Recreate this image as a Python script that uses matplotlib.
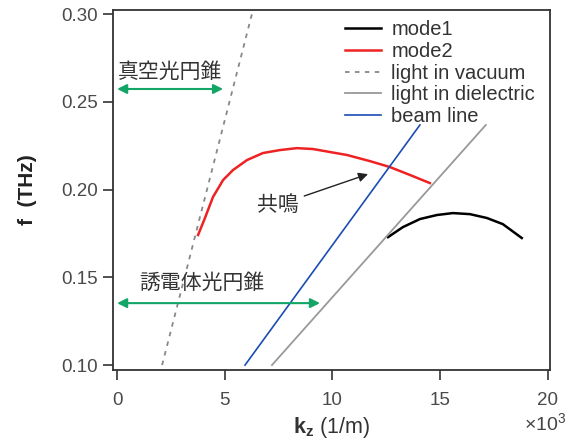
import matplotlib
matplotlib.use("Agg")
import matplotlib.pyplot as plt
import numpy as np

plt.rcParams['font.family'] = ['Liberation Sans', 'Noto Sans CJK JP', 'DejaVu Sans']
plt.rcParams['mathtext.fontset'] = 'custom'
plt.rcParams['mathtext.rm'] = 'Liberation Sans'
plt.rcParams['mathtext.bf'] = 'Liberation Sans:bold'

# dispersion curves (k in 1e3 1/m, f in THz)
mode1_k = [12.58, 13.27, 14.06, 14.85, 15.59, 16.38, 17.17, 17.91, 18.79]
mode1_f = [0.1729, 0.1786, 0.1832, 0.1855, 0.1866, 0.1860, 0.1838, 0.1803, 0.1724]

mode2_k = [3.76, 4.08, 4.45, 4.92, 5.38, 6.03, 6.77, 7.56, 8.35, 9.09, 9.88,
           10.67, 11.74, 12.67, 13.60, 14.52]
mode2_f = [0.1741, 0.1838, 0.1957, 0.2054, 0.2111, 0.2168, 0.2208, 0.2225, 0.2236,
           0.2231, 0.2214, 0.2197, 0.2162, 0.2128, 0.2083, 0.2037]

vac_k = [2.09, 6.26]
vac_f = [0.10, 0.30]

diel_k = [7.19, 17.12]
diel_f = [0.10, 0.2368]

beam_k = [5.94, 14.06]
beam_f = [0.10, 0.2368]

xticks = [0, 5, 10, 15, 20]
yticks = [0.10, 0.15, 0.20, 0.25, 0.30]

green = '#12a566'

fig = plt.figure(figsize=(5.7, 4.42), dpi=100)
ax = fig.add_axes([113/570, 1 - 370/442, (550 - 113)/570, (370 - 10)/442])

ax.plot(mode1_k, mode1_f, color='black', lw=1.8, label='mode1')
ax.plot(mode2_k, mode2_f, color='#ee2222', lw=1.8, label='mode2')
ax.plot(vac_k, vac_f, color='#888888', lw=1.3, ls=(0, (2.5, 3)), label='light in vacuum')
ax.plot(diel_k, diel_f, color='#999999', lw=1.3, label='light in dielectric')
ax.plot(beam_k, beam_f, color='#1a4db3', lw=1.2, label='beam line')

ax.set_xlim(-0.19, 20.1)
ax.set_ylim(0.0972, 0.3023)
ax.set_xticks(xticks)
ax.set_xticklabels([str(t) for t in xticks])
ax.set_yticks(yticks)
ax.set_yticklabels([f'{t:.2f}' for t in yticks])
ax.tick_params(direction='out', length=7, width=1.2, labelsize=13.5, colors='#333333',
               labelcolor='#4a4a4a')
ax.tick_params(axis='x', pad=9)
ax.tick_params(axis='y', pad=4)
for s in ax.spines.values():
    s.set_linewidth(1.3)
    s.set_color('#333333')

# light cone arrows
ax.annotate('', xy=(0, 0.2573), xytext=(4.92, 0.2573),
            arrowprops=dict(arrowstyle='<|-|>', color=green, lw=1.5,
                            mutation_scale=14, shrinkA=0, shrinkB=0))
ax.text(2.45, 0.267, '真空光円錐', fontsize=15, family='Noto Sans CJK JP',
        ha='center', va='center', color='#333333')

ax.annotate('', xy=(0, 0.1353), xytext=(9.42, 0.1353),
            arrowprops=dict(arrowstyle='<|-|>', color=green, lw=1.5,
                            mutation_scale=14, shrinkA=0, shrinkB=0))
ax.text(3.95, 0.1467, '誘電体光円錐', fontsize=15, family='Noto Sans CJK JP',
        ha='center', va='center', color='#333333')

ax.annotate('共鳴', xy=(11.65, 0.2088), xytext=(7.47, 0.1912),
            fontsize=15, family='Noto Sans CJK JP', ha='center', va='center',
            color='#333333',
            arrowprops=dict(arrowstyle='-|>', color='#222222', lw=1.0,
                            mutation_scale=14, shrinkA=2, shrinkB=0))

ax.set_ylabel('f  (THz)', fontsize=15, fontweight='bold', color='#222222', labelpad=17)
ax.set_xlabel(r'$\mathbf{k_z}$ (1/m)', fontsize=15.5, color='#333333', labelpad=4)
fig.text(566/570, 1 - 424/442, r'$\times10^3$', fontsize=14, ha='right', va='center',
         color='#444444')

leg = ax.legend(loc='upper left', bbox_to_anchor=(345/570, 1 - 20/442),
                bbox_transform=fig.transFigure, frameon=False, fontsize=14.5,
                handlelength=1.8, handletextpad=0.5, labelspacing=0.14,
                borderpad=0, borderaxespad=0)
for t in leg.get_texts():
    t.set_color('#333333')

fig.savefig('out.png', dpi=100)
